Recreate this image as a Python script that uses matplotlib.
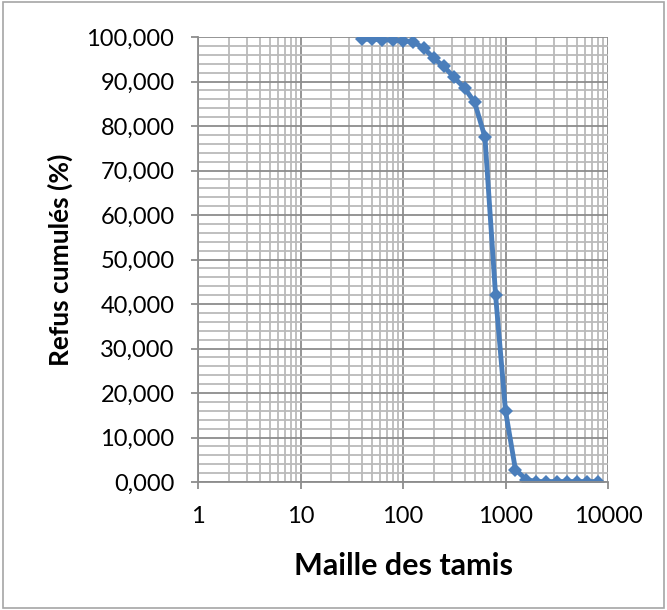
import matplotlib.pyplot as plt
from matplotlib.ticker import FixedLocator, FuncFormatter, LogLocator, MultipleLocator, NullFormatter
from matplotlib.patches import Rectangle

# sieve openings and cumulative refusal
maille = [40, 50, 63, 80, 100, 125, 160, 200, 250, 315, 400, 500, 630, 800,
          1000, 1250, 1600, 2000, 2500, 3150, 4000, 5000, 6300, 8000]
refus = [99.5, 99.5, 99.4, 99.3, 99.2, 98.9, 97.5, 95.2, 93.4, 90.9, 88.5, 85.3,
         77.5, 42.0, 16.0, 2.8, 0.5, 0.1, 0.1, 0.1, 0.1, 0.1, 0.1, 0.1]
x_ticks = [1, 10, 100, 1000, 10000]
y_ticks = list(range(0, 101, 10))

plt.rcParams["font.family"] = ["Lato", "DejaVu Sans"]

fig = plt.figure(figsize=(6.67, 6.10), dpi=100)
fig.patches.append(Rectangle((0.004, 0.004), 0.992, 0.992, transform=fig.transFigure,
                             fill=False, edgecolor="#a6a6a6", linewidth=1.2))
ax = fig.add_axes([198 / 667, 128 / 610, 410 / 667, 445 / 610])

ax.set_xscale("log")
ax.set_xlim(1, 10000)
ax.set_ylim(0, 100)

ax.xaxis.set_major_locator(FixedLocator(x_ticks))
ax.xaxis.set_minor_locator(LogLocator(base=10, subs=range(2, 10), numticks=20))
ax.xaxis.set_major_formatter(FuncFormatter(lambda v, p: f"{int(v)}"))
ax.xaxis.set_minor_formatter(NullFormatter())
ax.yaxis.set_major_locator(FixedLocator(y_ticks))
ax.yaxis.set_minor_locator(MultipleLocator(2))
ax.yaxis.set_major_formatter(FuncFormatter(lambda v, p: f"{v:.3f}".replace(".", ",")))

ax.grid(True, which="major", color="#8c8c8c", linewidth=1.3)
ax.grid(True, which="minor", color="#bababa", linewidth=1.3)
ax.set_axisbelow(True)

for side in ["top", "right"]:
    ax.spines[side].set_visible(False)
for side in ["left", "bottom"]:
    ax.spines[side].set_color("#8c8c8c")
    ax.spines[side].set_linewidth(1.3)

ax.tick_params(which="major", length=5, width=1.3, color="#8c8c8c",
               labelsize=17, pad=12)
ax.tick_params(axis="x", which="major", pad=12)
ax.tick_params(which="minor", length=0)

ax.plot(maille, refus, color="#4a7ebb", linewidth=3.5, marker="D", markersize=7,
        markeredgewidth=0)

ax.set_xlabel("Maille des tamis", fontsize=22, fontweight="bold", labelpad=18)
ax.set_ylabel("Refus cumulés (%)", fontsize=19, fontweight="bold")
ax.yaxis.set_label_coords(-0.305, 0.5)

fig.savefig("out.png", dpi=100)
